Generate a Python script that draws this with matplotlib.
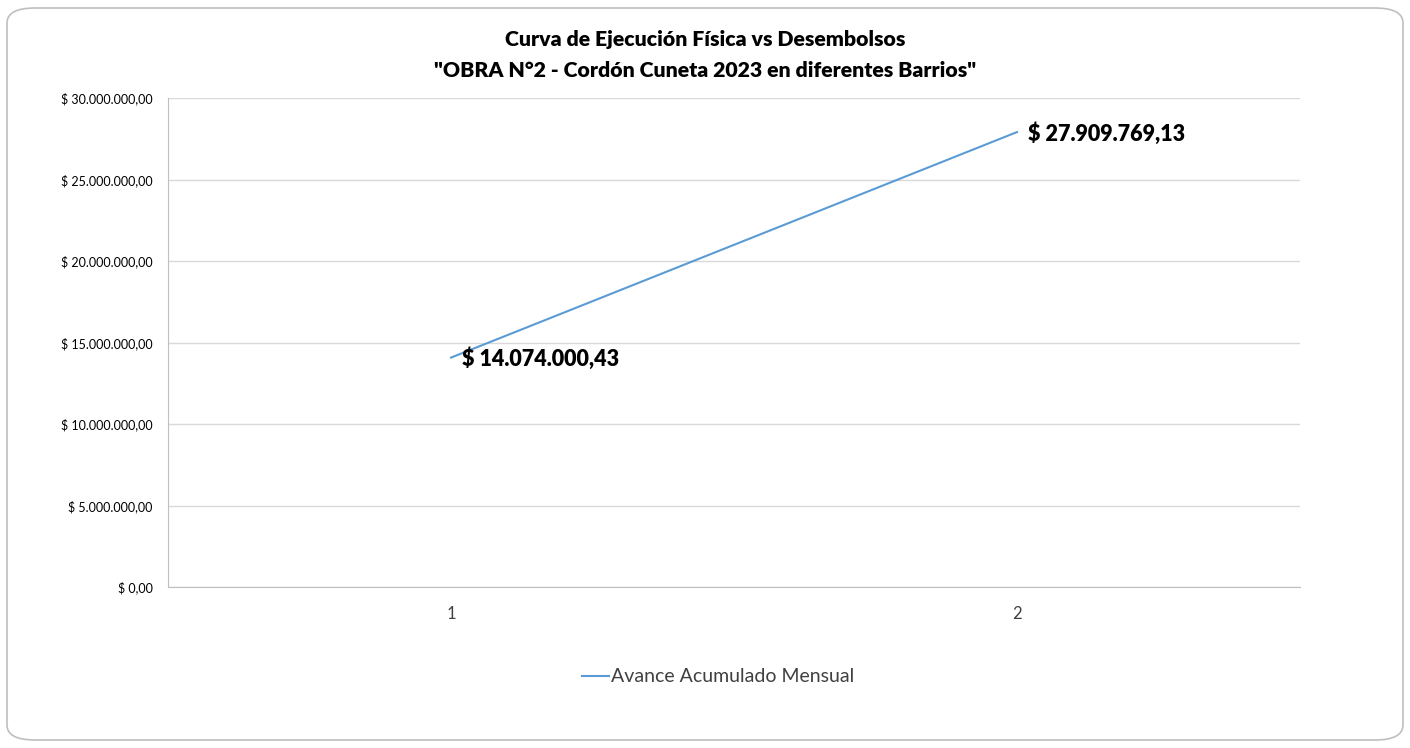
import matplotlib.pyplot as plt
from matplotlib.patches import FancyBboxPatch
from matplotlib.ticker import FuncFormatter

# chart data
periodos = [1, 2]
avance_acumulado = [14074000.43, 27909769.13]
etiquetas = ["$ 14.074.000,43", "$ 27.909.769,13"]
titulo = 'Curva de Ejecución Física vs Desembolsos\n"OBRA N°2 - Cordón Cuneta 2023 en diferentes Barrios"'
serie = "Avance Acumulado Mensual"

plt.rcParams['font.family'] = ['Lato', 'DejaVu Sans']


def pesos(v, pos=None):
    # format like "$ 30.000.000,00"
    s = f"{v:,.2f}".replace(",", "X").replace(".", ",").replace("X", ".")
    return "$ " + s


fig = plt.figure(figsize=(14.1, 7.48), dpi=100)
# rounded chart border
fig.patches.append(FancyBboxPatch((7 / 1410, 8 / 748), 1396 / 1410, 732 / 748,
                                  boxstyle="round,pad=0,rounding_size=0.02",
                                  transform=fig.transFigure, facecolor="white",
                                  edgecolor="#bfbfbf", linewidth=1.2, zorder=-1))

ax = fig.add_axes([168 / 1410, 1 - 587 / 748, 1132 / 1410, 489 / 748])
ax.set_facecolor("none")
ax.plot(periodos, avance_acumulado, color="#5B9BD5", linewidth=1.5, label=serie)

for x, y, t in zip(periodos, avance_acumulado, etiquetas):
    ax.annotate(t, (x, y), xytext=(8, -1), textcoords="offset points",
                ha="left", va="center", fontsize=15.5, fontweight="heavy", color="black")

ax.set_xlim(0.5, 2.5)
ax.set_ylim(0, 30000000)
ax.set_yticks(range(0, 30000001, 5000000))
ax.yaxis.set_major_formatter(FuncFormatter(lambda v, p: "$ 0,00" if v == 0 else pesos(v)))
ax.set_xticks(periodos)
ax.set_xticklabels([str(p) for p in periodos])
ax.tick_params(axis="y", length=0, labelsize=9, pad=11, colors="black")
ax.tick_params(axis="x", length=0, labelsize=12, pad=14, colors="#404040")
ax.grid(axis="y", color="#d9d9d9", linewidth=1)
for side in ["top", "right"]:
    ax.spines[side].set_visible(False)
ax.spines["left"].set_color("#bfbfbf")
ax.spines["bottom"].set_color("#bfbfbf")

fig.text(0.5, 1 - 55 / 748, titulo, ha="center", va="center", fontsize=15.3,
         fontweight="heavy", linespacing=1.7)

leg = fig.legend(loc="center", bbox_to_anchor=(0.5 + 13 / 1410, 1 - 677 / 748), frameon=False,
                 fontsize=14, handlelength=1.4, handletextpad=0.1)
for t in leg.get_texts():
    t.set_color("#404040")

fig.savefig("out.png", dpi=100)
